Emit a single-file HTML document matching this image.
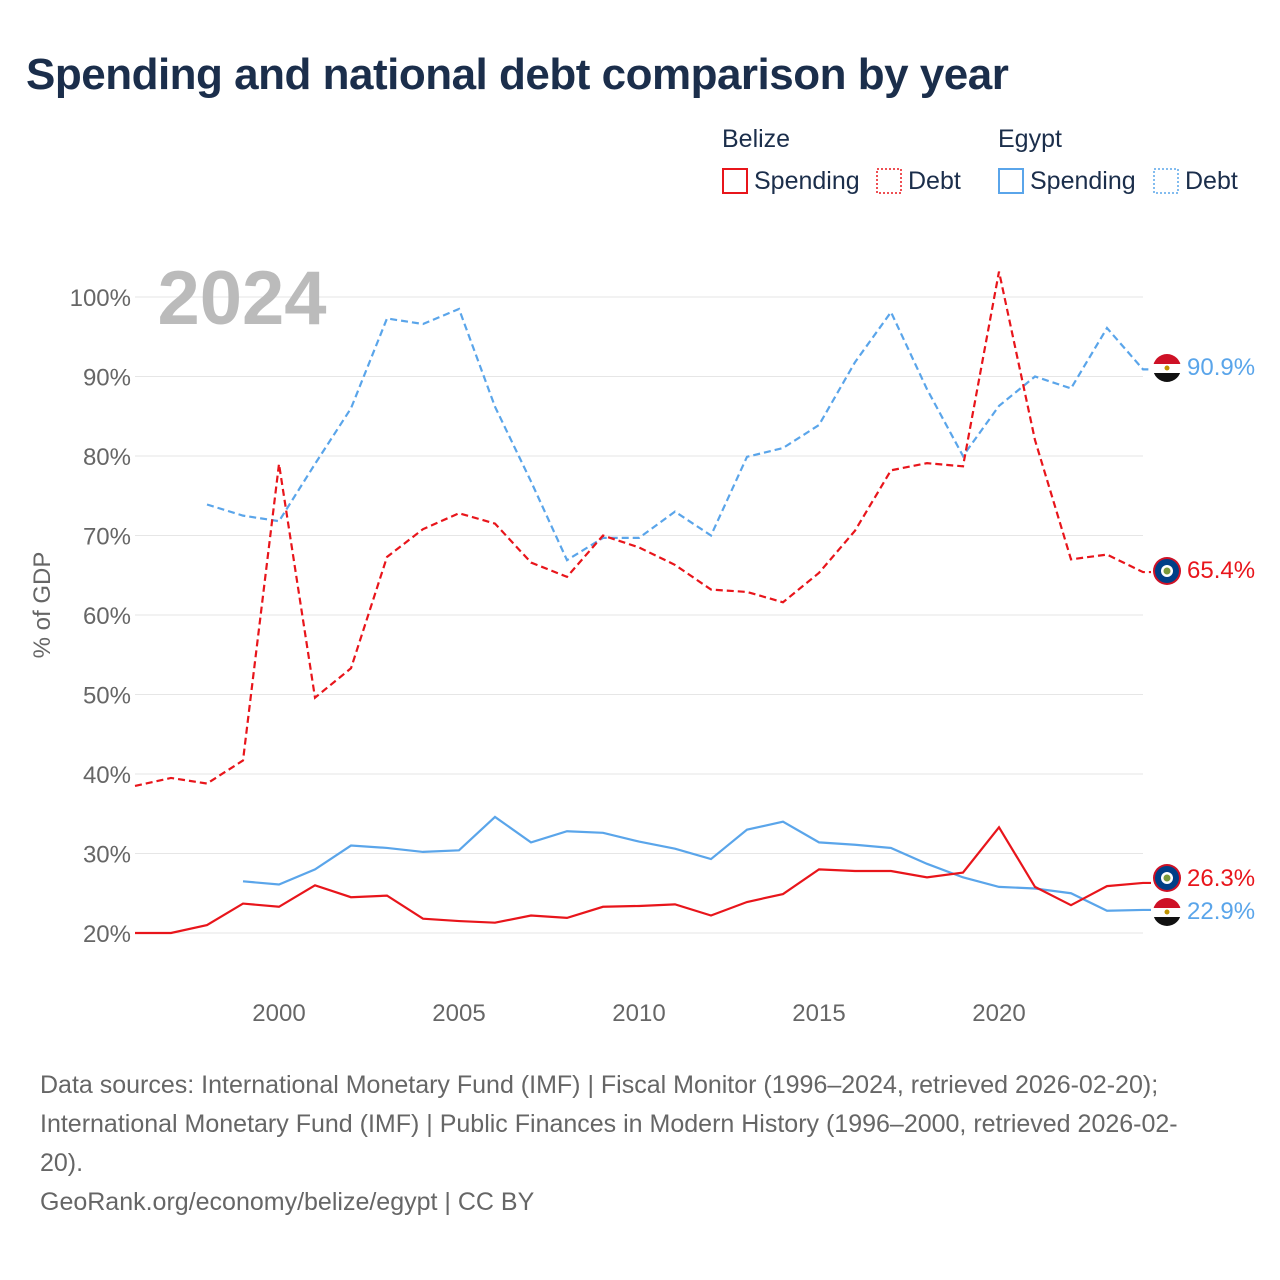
<!DOCTYPE html>
<html><head><meta charset="utf-8">
<style>
body{margin:0;background:#fff;font-family:"Liberation Sans",sans-serif;}
#wrap{position:relative;width:1280px;height:1280px;overflow:hidden;}
h1{position:absolute;left:26px;top:50px;margin:0;font-size:44px;font-weight:bold;color:#1b2e4b;letter-spacing:-0.5px;}
.src{position:absolute;left:40px;top:1066px;width:1220px;font-size:25px;line-height:39px;color:#666;white-space:nowrap;}
</style></head><body>
<div id="wrap">
<h1>Spending and national debt comparison by year</h1>
<svg id="chart" width="1280" height="1280" style="position:absolute;left:0;top:0"></svg>
<div class="src">Data sources: International Monetary Fund (IMF) | Fiscal Monitor (1996–2024, retrieved 2026-02-20);<br>International Monetary Fund (IMF) | Public Finances in Modern History (1996–2000, retrieved 2026-02-<br>20).<br>GeoRank.org/economy/belize/egypt | CC BY</div>
</div>
<script>
const years=[1996,1997,1998,1999,2000,2001,2002,2003,2004,2005,2006,2007,2008,2009,2010,2011,2012,2013,2014,2015,2016,2017,2018,2019,2020,2021,2022,2023,2024];
const belizeDebt=[38.5,39.5,38.8,41.7,79,49.6,53.3,67.3,70.8,72.8,71.5,66.6,64.8,70,68.5,66.3,63.2,62.9,61.6,65.3,70.6,78.2,79.1,78.7,103.2,82,67,67.6,65.4];
const egyptDebt=[null,null,73.9,72.5,71.8,79,86,97.3,96.6,98.5,86.2,76.8,66.9,69.7,69.7,73,70,79.9,81,83.9,91.8,98.1,88.4,80,86.3,90,88.5,96.1,90.9];
const belizeSpend=[20,20,21,23.7,23.3,26,24.5,24.7,21.8,21.5,21.3,22.2,21.9,23.3,23.4,23.6,22.2,23.9,24.9,28,27.8,27.8,27,27.6,33.3,25.8,23.5,25.9,26.3];
const egyptSpend=[null,null,null,26.5,26.1,28,31,30.7,30.2,30.4,34.6,31.4,32.8,32.6,31.5,30.6,29.3,33,34,31.4,31.1,30.7,28.7,27,25.8,25.6,25,22.8,22.9];
const yTicks=[20,30,40,50,60,70,80,90,100];
const xTicks=[2000,2005,2010,2015,2020];
const NS="http://www.w3.org/2000/svg";
const svg=document.getElementById('chart');
const x=v=>135+(v-1996)*36;
const y=v=>933-(v-20)*7.95;
function mk(t,a,p){const e=document.createElementNS(NS,t);for(const k in a)e.setAttribute(k,a[k]);(p||svg).appendChild(e);return e;}
yTicks.forEach(t=>{
 const l=mk('line',{x1:135,x2:1143,y1:y(t),y2:y(t),stroke:'#e6e6e6','stroke-width':1});
 
 
 const tx=mk('text',{x:131,y:y(t)+9,'text-anchor':'end','font-size':24,fill:'#666'});tx.textContent=t+'%';
 
 
});
xTicks.forEach(t=>{
 const tx=mk('text',{x:x(t),y:1021,'text-anchor':'middle','font-size':24,fill:'#666'});tx.textContent=t;
 
 
});
const yt=mk('text',{x:0,y:0,transform:'translate(50,605) rotate(-90)','text-anchor':'middle','font-size':24,fill:'#666'});yt.textContent='% of GDP';


const yr=mk('text',{x:242,y:324,'text-anchor':'middle','font-size':76,'font-weight':'bold',fill:'#bbb'});yr.textContent='2024';


function series(vals,color,dash,name){
 let d='';let started=false;
 vals.forEach((v,i)=>{if(v==null)return;d+=(started?'L':'M')+x(years[i])+' '+y(v)+' ';started=true;});
 const last=vals[vals.length-1];
 d+='L'+(x(2024)+8)+' '+y(last);
 const p=mk('path',{d:d,fill:'none',stroke:color,'stroke-width':2.2,'stroke-dasharray':dash||'none'});
 
 
}
series(egyptDebt,'#5aa5ea','7 4','egypt-debt-line');
series(belizeDebt,'#e8151b','7 4','belize-debt-line');
series(egyptSpend,'#5aa5ea',null,'egypt-spending-line');
series(belizeSpend,'#e8151b',null,'belize-spending-line');
function flag(cy,country){
 const g=mk('g',{});
 
 
 const cx=1167;
 if(country==='egypt'){
  mk('clipPath',{id:'c'+cy},g);
  mk('circle',{cx:cx,cy:cy,r:14},g.lastChild);
  const gg=mk('g',{'clip-path':'url(#c'+cy+')'},g);
  mk('rect',{x:cx-14,y:cy-14,width:28,height:10,fill:'#ce1126'},gg);
  mk('rect',{x:cx-14,y:cy-4,width:28,height:9,fill:'#fff'},gg);
  mk('rect',{x:cx-14,y:cy+5,width:28,height:10,fill:'#111'},gg);
  mk('circle',{cx:cx,cy:cy,r:2.5,fill:'#c09300'},gg);
 }else{
  mk('circle',{cx:cx,cy:cy,r:14,fill:'#ce1126'},g);
  mk('circle',{cx:cx,cy:cy,r:12,fill:'#003f87'},g);
  mk('circle',{cx:cx,cy:cy,r:6,fill:'#fff'},g);
  mk('circle',{cx:cx,cy:cy,r:3.5,fill:'#7a9a3a'},g);
 }
}
function endLabel(v,color,cy,name){
 const t=mk('text',{x:1187,y:cy+9,'font-size':24,fill:color});t.textContent=v.toFixed(1)+'%';
 
 
}
flag(368,'egypt');endLabel(egyptDebt[28],'#5aa5ea',366,'egypt-debt-value');
flag(571,'belize');endLabel(belizeDebt[28],'#e8151b',569,'belize-debt-value');
flag(878,'belize');endLabel(belizeSpend[28],'#e8151b',877,'belize-spending-value');
flag(912,'egypt');endLabel(egyptSpend[28],'#5aa5ea',910,'egypt-spending-value');
function lt(xx,yy,s,name,c){const t=mk('text',{x:xx,y:yy,'font-size':25,fill:c||'#1b2e4b'});t.textContent=s;
 
 }
lt(722,147,'Belize','legend-group-belize');
lt(998,147,'Egypt','legend-group-egypt');
function sw(xx,color,dash,name,label){
 const g=mk('g',{});
 
 
 mk('rect',{x:xx,y:169,width:24,height:24,fill:'none',stroke:color,'stroke-width':dash?1.5:2,'stroke-dasharray':dash||'none'},g);
 const t=mk('text',{x:xx+31,y:189,'font-size':25,fill:'#1b2e4b'},g);t.textContent=label;
}
sw(723,'#e8151b',null,'legend-belize-spending','Spending');
sw(877,'#e8151b','2 2','legend-belize-debt','Debt');
sw(999,'#5aa5ea',null,'legend-egypt-spending','Spending');
sw(1154,'#5aa5ea','2 2','legend-egypt-debt','Debt');
</script>
</body></html>
